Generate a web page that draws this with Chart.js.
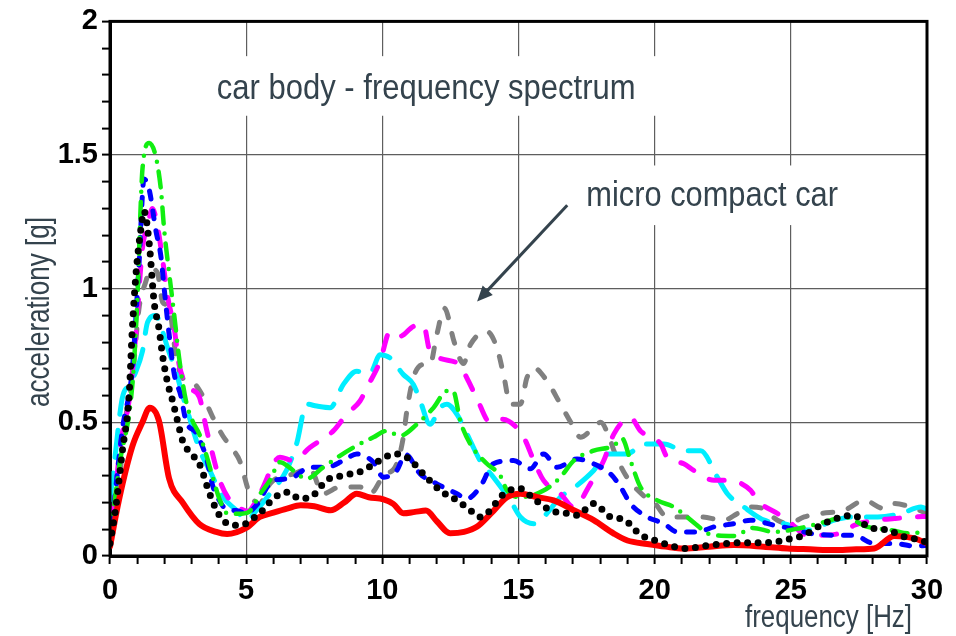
<!DOCTYPE html>
<html>
<head>
<meta charset="utf-8">
<script src="https://cdn.jsdelivr.net/npm/chart.js@4/dist/chart.umd.min.js"></script>
<style>
  html, body { margin: 0; padding: 0; background: #fff; }
  canvas { display: block; }
</style>
</head>
<body>
<canvas id="spectrum" width="956" height="636"></canvas>
<script>
// frequency [Hz] / acceleration [g] pairs
const red = [[0,0.035],[0.33,0.21],[0.82,0.41],[1.19,0.50],[1.46,0.555],[1.8,0.505],[2.17,0.29],[2.67,0.2],[3.28,0.12],[3.9,0.09],[4.3,0.082],[5.0,0.105],[5.5,0.146],[6.0,0.162],[6.5,0.177],[7.0,0.19],[7.5,0.186],[8.1,0.171],[8.6,0.2],[9.06,0.233],[9.5,0.22],[10.04,0.212],[10.4,0.195],[10.77,0.16],[11.2,0.165],[11.6,0.17],[12.0,0.13],[12.49,0.085],[13.0,0.09],[13.47,0.109],[14.0,0.16],[14.58,0.22],[15.07,0.233],[15.7,0.22],[16.29,0.208],[17.03,0.171],[17.76,0.134],[18.5,0.084],[19.0,0.058],[19.73,0.045],[20.4,0.035],[21.07,0.028],[22.0,0.035],[22.91,0.041],[24.0,0.035],[24.88,0.028],[25.7,0.025],[26.6,0.022],[27.4,0.025],[28.06,0.028],[28.8,0.075],[29.54,0.066],[30,0.047]];

const black = [[0,0.047],[0.21,0.18],[0.45,0.39],[0.70,0.60],[0.82,0.85],[0.95,1.05],[1.13,1.22],[1.25,1.29],[1.44,1.17],[1.62,0.95],[1.8,0.85],[1.93,0.75],[2.11,0.65],[2.3,0.58],[2.48,0.505],[2.67,0.43],[2.91,0.39],[3.28,0.345],[3.66,0.233],[4.03,0.15],[4.5,0.115],[4.9,0.118],[5.25,0.14],[5.6,0.17],[6.0,0.215],[6.54,0.239],[6.97,0.214],[7.46,0.227],[7.95,0.283],[8.57,0.301],[9.3,0.32],[9.79,0.351],[10.47,0.382],[10.9,0.369],[11.51,0.307],[12.12,0.245],[12.74,0.208],[13.23,0.171],[13.59,0.146],[13.96,0.171],[14.33,0.22],[14.8,0.25],[15.07,0.252],[15.56,0.214],[16.17,0.171],[16.78,0.159],[17.15,0.152],[17.76,0.196],[18.38,0.146],[18.87,0.136],[19.48,0.08],[20.1,0.055],[20.7,0.035],[21.07,0.028],[22.0,0.04],[23.16,0.05],[24.14,0.05],[24.88,0.062],[25.49,0.078],[26.1,0.115],[26.84,0.146],[27.33,0.152],[27.82,0.109],[28.56,0.097],[29.17,0.072],[29.78,0.059],[30,0.05]];

const green = [[0,0.06],[0.33,0.33],[0.82,0.64],[1.0,0.95],[1.13,1.32],[1.19,1.445],[1.44,1.545],[1.68,1.495],[1.87,1.37],[1.99,1.22],[2.17,1.06],[2.36,0.90],[2.54,0.74],[2.79,0.58],[3.03,0.505],[3.28,0.456],[3.53,0.38],[3.77,0.295],[4.03,0.21],[4.3,0.16],[4.7,0.158],[5.1,0.165],[5.5,0.23],[5.87,0.283],[6.24,0.351],[6.73,0.32],[7.22,0.289],[7.83,0.332],[8.44,0.375],[9.06,0.413],[9.67,0.444],[10.16,0.468],[10.65,0.45],[11.27,0.493],[11.88,0.555],[12.37,0.617],[12.6,0.617],[12.86,0.506],[13.23,0.419],[13.84,0.345],[14.33,0.301],[14.58,0.245],[15.07,0.22],[15.92,0.245],[16.54,0.295],[17.03,0.357],[17.76,0.394],[18.5,0.413],[18.8,0.44],[19.11,0.357],[19.48,0.258],[20.1,0.208],[20.71,0.183],[21.5,0.12],[22.0,0.082],[22.91,0.075],[23.6,0.105],[24.39,0.09],[25.36,0.105],[26.35,0.13],[26.96,0.146],[27.82,0.109],[28.68,0.097],[29.41,0.084],[30,0.097]];

const blue = [[0,0.047],[0.45,0.47],[0.82,0.70],[1.07,1.10],[1.25,1.41],[1.44,1.37],[1.68,1.22],[1.87,1.12],[1.99,1.0],[2.17,0.83],[2.36,0.68],[2.6,0.60],[2.79,0.505],[3.16,0.46],[3.53,0.37],[3.78,0.26],[4.0,0.21],[4.27,0.175],[4.63,0.17],[5.0,0.16],[5.38,0.19],[5.99,0.283],[6.6,0.289],[7.34,0.332],[7.95,0.332],[8.57,0.357],[9.06,0.382],[9.67,0.351],[10.04,0.295],[10.53,0.32],[10.85,0.38],[11.39,0.307],[12.0,0.27],[12.74,0.233],[13.1,0.214],[13.59,0.258],[14.08,0.345],[14.82,0.357],[15.43,0.326],[15.92,0.382],[16.42,0.332],[17.15,0.363],[17.76,0.345],[18.38,0.307],[18.75,0.258],[19.11,0.196],[19.73,0.146],[20.34,0.121],[20.83,0.09],[21.57,0.09],[22.18,0.109],[22.91,0.121],[23.53,0.134],[24.39,0.115],[25.0,0.103],[25.74,0.084],[26.6,0.078],[27.3,0.078],[28.06,0.047],[28.8,0.047],[29.54,0.037],[30,0.04]];

const magenta = [[0,0.047],[0.09,0.13],[0.39,0.42],[0.70,0.58],[0.95,0.83],[1.19,1.15],[1.38,1.235],[1.56,1.30],[1.74,1.235],[1.93,1.11],[2.11,0.975],[2.36,0.85],[2.54,0.715],[2.91,0.63],[3.28,0.595],[3.53,0.48],[3.77,0.38],[4.03,0.283],[4.39,0.21],[4.75,0.18],[5.05,0.167],[5.5,0.233],[6.24,0.369],[6.73,0.357],[7.34,0.406],[8.2,0.468],[8.69,0.53],[9.18,0.58],[9.43,0.629],[9.92,0.729],[10.28,0.84],[10.65,0.822],[11.14,0.859],[11.51,0.865],[11.75,0.766],[12.8,0.72],[13.1,0.667],[13.47,0.59],[13.96,0.5],[14.4,0.512],[15.19,0.444],[15.56,0.357],[15.92,0.283],[16.54,0.233],[17.03,0.183],[17.64,0.27],[18.13,0.357],[18.5,0.456],[19.11,0.518],[19.48,0.468],[20.22,0.419],[20.46,0.369],[21.07,0.345],[21.44,0.32],[22.18,0.283],[22.67,0.283],[23.53,0.245],[23.77,0.208],[24.51,0.159],[24.88,0.134],[25.61,0.078],[26.1,0.078],[26.96,0.09],[27.33,0.115],[28.19,0.134],[28.8,0.14],[29.54,0.146],[30,0.148]];

const cyan = [[0,0.21],[0.15,0.34],[0.45,0.59],[0.70,0.64],[0.95,0.69],[1.19,0.765],[1.38,0.875],[1.68,0.90],[1.93,0.84],[2.11,0.78],[2.42,0.69],[2.67,0.60],[2.91,0.52],[3.28,0.40],[3.66,0.32],[4.15,0.22],[4.64,0.171],[5.01,0.134],[5.38,0.171],[5.87,0.233],[6.48,0.32],[6.85,0.419],[7.22,0.568],[7.59,0.561],[8.08,0.555],[8.57,0.642],[9.06,0.691],[9.55,0.685],[9.92,0.753],[10.28,0.741],[10.77,0.679],[11.14,0.642],[11.39,0.58],[11.75,0.493],[12.12,0.555],[12.37,0.568],[12.74,0.53],[13.23,0.431],[13.59,0.357],[14.08,0.295],[14.7,0.208],[15.07,0.146],[15.56,0.121],[15.92,0.146],[16.54,0.22],[17.15,0.264],[17.76,0.32],[18.26,0.382],[18.99,0.382],[19.6,0.419],[20.34,0.419],[21.07,0.394],[21.69,0.394],[22.3,0.295],[22.67,0.233],[23.28,0.183],[24.02,0.134],[24.75,0.121],[25.61,0.097],[26.6,0.134],[27.33,0.146],[28.19,0.146],[29.05,0.159],[29.78,0.183],[30,0.175]];

const gray = [[0,0.04],[0.15,0.146],[0.39,0.33],[0.58,0.52],[0.82,0.665],[1.07,0.93],[1.31,1.025],[1.5,1.075],[1.74,1.06],[1.93,0.95],[2.17,0.93],[2.42,0.75],[2.67,0.665],[3.03,0.65],[3.4,0.6],[3.77,0.52],[4.14,0.45],[4.5,0.40],[4.76,0.357],[5.13,0.233],[5.5,0.196],[5.87,0.27],[6.73,0.307],[7.34,0.326],[7.83,0.233],[8.44,0.258],[9.18,0.258],[9.55,0.233],[10.04,0.3],[10.53,0.345],[10.77,0.444],[10.9,0.543],[11.14,0.667],[11.5,0.716],[11.75,0.716],[12.0,0.828],[12.28,0.927],[12.64,0.8],[12.98,0.72],[13.23,0.79],[13.84,0.84],[14.21,0.778],[14.45,0.679],[14.7,0.568],[15.07,0.568],[15.31,0.667],[15.56,0.704],[16.05,0.654],[16.54,0.568],[17.03,0.481],[17.27,0.444],[17.76,0.481],[18.01,0.5],[18.38,0.431],[18.5,0.395],[18.95,0.3],[19.6,0.225],[20.0,0.198],[20.46,0.146],[21.1,0.146],[21.69,0.146],[22.55,0.134],[23.04,0.159],[23.53,0.183],[23.9,0.18],[24.51,0.134],[24.9,0.121],[25.49,0.146],[26.1,0.159],[26.96,0.171],[27.7,0.208],[28.43,0.177],[28.8,0.196],[29.41,0.183],[30,0.159]];

// axis ranges and labelled ticks
const xTickLabels = [0, 5, 10, 15, 20, 25, 30];
const yTickLabels = ['0', '0.5', '1', '1.5', '2'];

const textColor = '#34434d';
const narrow = '"Liberation Sans Narrow", "Liberation Sans", Arial, sans-serif';

const toPoints = arr => arr.map(p => ({ x: p[0], y: p[1] }));

const line = (data, color, width, dash) => ({
    data: toPoints(data),
    borderColor: color,
    borderWidth: width,
    borderDash: dash,
    borderCapStyle: 'round',
    borderJoinStyle: 'round',
    pointRadius: 0,
    fill: false,
    cubicInterpolationMode: 'monotone'
});

// draws text squeezed/stretched to fit between x0 and x1
function fitText(ctx, text, x0, x1, baseline, size) {
    ctx.font = size + 'px ' + narrow;
    const w = ctx.measureText(text).width;
    ctx.save();
    ctx.translate(x0, baseline);
    ctx.scale((x1 - x0) / w, 1);
    ctx.textAlign = 'left';
    ctx.textBaseline = 'alphabetic';
    ctx.fillStyle = textColor;
    ctx.fillText(text, 0, 0);
    ctx.restore();
}

// title, annotation label with white backing, arrow, axis titles, frame
const decorations = {
    id: 'decorations',
    beforeDatasetsDraw(chart) {
        const { ctx } = chart;
        const x = chart.scales.x, y = chart.scales.y;
        const px = v => x.getPixelForValue(v), py = v => y.getPixelForValue(v);

        ctx.save();
        ctx.fillStyle = '#fff';
        ctx.fillRect(px(3.3), py(1.87), px(20.2) - px(3.3), py(1.647) - py(1.87));
        ctx.fillRect(px(17.1), py(1.461), px(27.2) - px(17.1), py(1.238) - py(1.461));
        ctx.restore();

        fitText(ctx, 'car body - frequency spectrum', px(3.92), px(19.3), py(1.708), 35);
        fitText(ctx, 'micro compact car', px(17.49), px(26.73), py(1.311), 35);

        // arrow
        const x1 = px(16.79), y1 = py(1.312), x2 = px(13.48), y2 = py(0.952);
        const ang = Math.atan2(y2 - y1, x2 - x1);
        const head = 17;
        ctx.save();
        ctx.strokeStyle = textColor;
        ctx.fillStyle = textColor;
        ctx.lineWidth = 3;
        ctx.beginPath();
        ctx.moveTo(x1, y1);
        ctx.lineTo(x2 - Math.cos(ang) * head * 0.8, y2 - Math.sin(ang) * head * 0.8);
        ctx.stroke();
        ctx.beginPath();
        ctx.moveTo(x2, y2);
        ctx.lineTo(x2 - head * Math.cos(ang - 0.42), y2 - head * Math.sin(ang - 0.42));
        ctx.lineTo(x2 - head * Math.cos(ang + 0.42), y2 - head * Math.sin(ang + 0.42));
        ctx.closePath();
        ctx.fill();
        ctx.restore();

        // axis titles
        fitText(ctx, 'frequency [Hz]', 745, 912, 627, 31);
        ctx.save();
        ctx.translate(49, 407);
        ctx.rotate(-Math.PI / 2);
        fitText(ctx, 'accelerationy [g]', 0, 190, 0, 34);
        ctx.restore();
    },
    afterDraw(chart) {
        const { ctx, chartArea: a } = chart;
        ctx.save();
        ctx.strokeStyle = '#000';
        ctx.lineWidth = 3;
        ctx.strokeRect(a.left, a.top, a.right - a.left, a.bottom - a.top);
        ctx.restore();
    }
};

new Chart(document.getElementById('spectrum'), {
    type: 'line',
    data: {
        datasets: [
            line(black, '#000000', 7, [0, 10.5]),
            line(red, '#ff0000', 6, []),
            line(green, '#11ee11', 4.5, [16, 10, 0, 10]),
            line(blue, '#0000ff', 5, [8, 12]),
            line(magenta, '#ff00ff', 5, [15, 18]),
            line(cyan, '#00eeff', 5, [27, 16]),
            line(gray, '#808080', 5, [10, 16])
        ]
    },
    options: {
        responsive: false,
        animation: false,
        devicePixelRatio: 1,
        layout: { padding: { top: 20, right: 29, left: 0, bottom: 0 } },
        plugins: { legend: { display: false }, tooltip: { enabled: false } },
        scales: {
            x: {
                type: 'linear',
                min: 0, max: 30,
                afterFit: s => { s.height = 80; },
                afterBuildTicks: s => { s.ticks = Array.from({ length: 31 }, (_, i) => ({ value: i })); },
                ticks: {
                    autoSkip: false,
                    maxRotation: 0,
                    padding: 10,
                    color: '#000',
                    font: { family: '"Liberation Sans", Arial, sans-serif', weight: 'bold', size: 29 },
                    callback: v => xTickLabels.includes(v) ? String(v) : ''
                },
                grid: {
                    color: c => (c.tick && c.tick.value % 5 === 0 && c.tick.value > 0 && c.tick.value < 30) ? '#5e5e5e' : 'rgba(0,0,0,0)',
                    tickColor: '#000',
                    tickLength: 8,
                    tickWidth: 2,
                    lineWidth: 1.2
                },
                border: { display: true, color: '#000', width: 3 }
            },
            y: {
                min: 0, max: 2,
                afterFit: s => { s.width = 110; },
                afterBuildTicks: s => { s.ticks = Array.from({ length: 21 }, (_, i) => ({ value: i / 10 })); },
                ticks: {
                    autoSkip: false,
                    padding: 4,
                    color: '#000',
                    font: { family: '"Liberation Sans", Arial, sans-serif', weight: 'bold', size: 29 },
                    callback: v => {
                        const k = Math.round(v * 10);
                        return k % 5 === 0 ? yTickLabels[k / 5] : '';
                    }
                },
                grid: {
                    color: c => {
                        const k = c.tick ? Math.round(c.tick.value * 10) : -1;
                        return (k % 5 === 0 && k > 0 && k < 20) ? '#5e5e5e' : 'rgba(0,0,0,0)';
                    },
                    tickColor: '#000',
                    tickLength: 8,
                    tickWidth: 2,
                    lineWidth: 1.2
                },
                border: { display: true, color: '#000', width: 3 }
            }
        }
    },
    plugins: [decorations]
});
</script>
</body>
</html>
